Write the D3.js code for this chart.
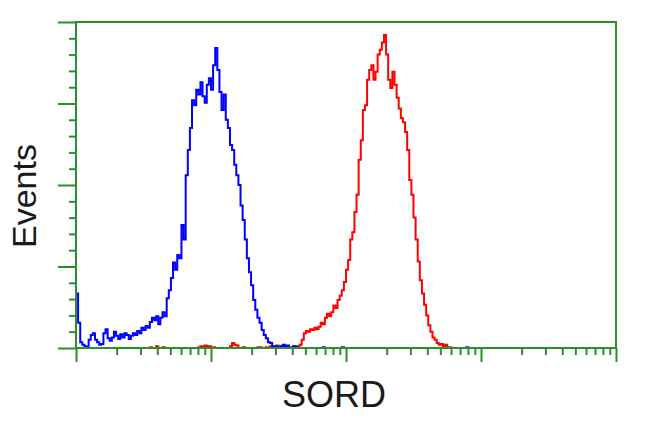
<!DOCTYPE html>
<html><head><meta charset="utf-8">
<script src="https://cdn.jsdelivr.net/npm/d3@7"></script>
<style>html,body{margin:0;padding:0;background:#fff;}svg{display:block;}</style>
</head><body>
<svg id="chart" width="650" height="431"></svg>
<script>
// histogram: 256 log-spaced channels over 4 decades (1 .. 10^4)
const nBins = 256;
const xDomain = [1, 10000];
const yDomain = [0, 400];
const yMajorTicks = [0, 100, 200, 300, 400];
const xMajorTicks = [1, 10, 100, 1000, 10000];
const xLabel = "SORD";
const yLabel = "Events";

// counts per channel, starting at channel 0
const blueCounts = [
  67,31,7,4,2,1,10,16,18,10, 7,4,5,18,23,12,9,13,20,15,
  11,17,13,18,16,11,15,18,16,21, 18,25,22,27,25,32,37,34,39,29,
  37,44,39,61,71,86,105,96,114,110, 151,133,212,243,270,304,298,317,311,326,
  309,301,323,331,317,347,368,341,314,292, 311,280,270,249,243,225,212,200,175,157,
  133,110,93,77,59,47,37,31,22,16, 12,7,6,2,2,1,0,2,4,2,
  3,0,0,2,2,0,0,0,0,0, 0,0,0,0,0,0,0,1,0,0,
  0,0,0,0,0,0,1,0,0,0, 0,0,0,0,0,0,0,0,0,0,
  0,0,0,0,0,0,0,0,0,0, 0,0,0,0,0,0,0,0,0,0,
  0,0,0,0,0,0,0,0,0,0, 0,0,0,0,0,0,0,0,0,0,
  0,0,0,0,0,1,0
];
const redCounts = [
  0,0,0,0,0,0,0,0,0,0, 0,0,0,0,0,0,0,0,0,0,
  0,0,0,0,0,0,0,0,0,0, 0,0,0,0,0,1,0,0,2,0,
  0,1,0,0,0,0,0,0,0,0, 0,0,0,0,0,0,0,0,1,2,
  1,3,1,2,0,1,0,0,0,0, 0,0,0,2,6,4,3,0,0,1,
  0,0,0,0,0,0,1,1,0,0, 1,0,2,1,1,3,2,1,3,1,
  2,0,1,2,1,1,4,10,18,21, 20,23,22,25,23,26,31,29,37,42,
  39,44,52,49,59,64,71,81,96,108, 133,142,167,188,231,255,292,298,329,341,
  347,329,339,360,366,375,384,360,329,319, 339,323,307,294,282,277,265,243,206,188,
  160,133,106,83,67,53,40,28,20,13, 10,6,4,5,2,4,1,1,0,0
];

const svg = d3.select("#chart");
const green = "#2b8f2b";
const font = "'Liberation Sans', Arial, Helvetica, sans-serif";

const x = d3.scaleLog().domain(xDomain).range([76, 616]);
const y = d3.scaleLinear().domain(yDomain).range([348, 22]);
const chan = i => Math.pow(10, Math.log10(xDomain[1]) * i / nBins);

function series(counts) {
  const pts = counts.map((c, i) => [chan(i), c]);
  pts.push([chan(counts.length), 0]);
  return pts;
}
const line = d3.line().x(d => x(d[0])).y(d => y(d[1])).curve(d3.curveStepAfter);

svg.append("path").datum(series(redCounts)).attr("d", line)
  .attr("fill", "none").attr("stroke", "#ff0000").attr("stroke-width", 2);
svg.append("path").datum(series(blueCounts)).attr("d", line)
  .attr("fill", "none").attr("stroke", "#0000ff").attr("stroke-width", 2);

// Y axis
const yMinor = d3.range(yDomain[0], yDomain[1] + 1, 20).filter(v => v % 100 !== 0);
const gy = svg.append("g").attr("transform", "translate(76,0)");
gy.call(d3.axisLeft(y).tickValues(yMajorTicks).tickSize(18).tickFormat(""));
gy.call(g => g.select(".domain").remove());
const gy2 = svg.append("g").attr("transform", "translate(76,0)");
gy2.call(d3.axisLeft(y).tickValues(yMinor).tickSize(7).tickFormat(""));
gy2.call(g => g.select(".domain").remove());

// X axis
const xMinor = [];
for (let d = 1; d < xDomain[1]; d *= 10) for (let k = 2; k <= 9; k++) xMinor.push(d * k);
const gx = svg.append("g").attr("transform", "translate(0,348)");
gx.call(d3.axisBottom(x).tickValues(xMajorTicks).tickSize(14).tickFormat(""));
gx.call(g => g.select(".domain").remove());
const gx2 = svg.append("g").attr("transform", "translate(0,348)");
gx2.call(d3.axisBottom(x).tickValues(xMinor).tickSize(7).tickFormat(""));
gx2.call(g => g.select(".domain").remove());

svg.selectAll(".tick line").attr("stroke", green).attr("stroke-width", 2);

// frame
svg.append("rect").attr("x", x(xDomain[0])).attr("y", y(yDomain[1]))
  .attr("width", x(xDomain[1]) - x(xDomain[0])).attr("height", y(yDomain[0]) - y(yDomain[1]))
  .attr("fill", "none").attr("stroke", green).attr("stroke-width", 2);

// labels
svg.append("text").attr("x", 334).attr("y", 407).attr("text-anchor", "middle")
  .attr("font-family", font).attr("font-size", 36).attr("fill", "#1a1a1a").text(xLabel);
svg.append("text").attr("transform", "translate(36,196) rotate(-90)").attr("text-anchor", "middle")
  .attr("font-family", font).attr("font-size", 34).attr("fill", "#1a1a1a").text(yLabel);
</script>
</body></html>
